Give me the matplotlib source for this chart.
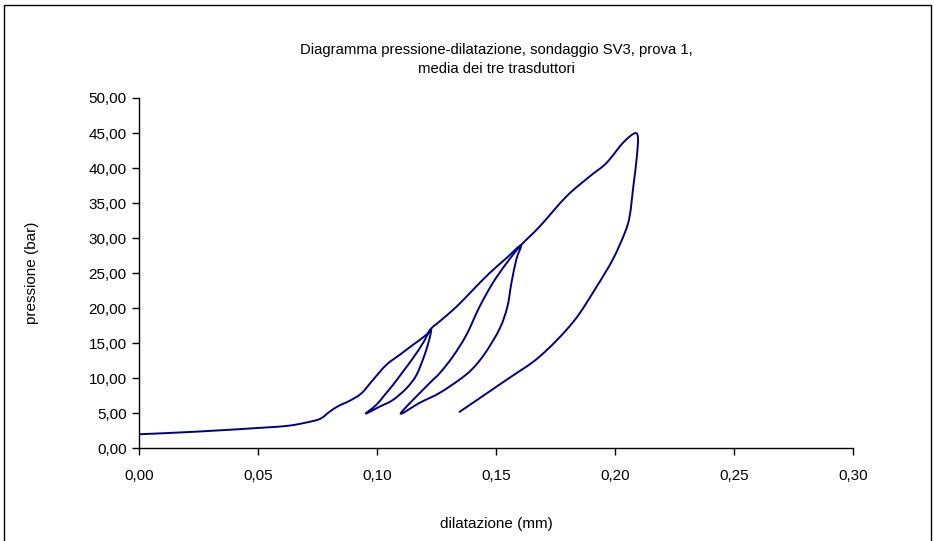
import matplotlib
matplotlib.use('Agg')
import matplotlib.pyplot as plt
from matplotlib.patches import Rectangle, PathPatch
from matplotlib.path import Path
from matplotlib.ticker import FuncFormatter, MultipleLocator

# one continuous pressure-dilation path (load / unload / reload cycles)
dilatazione = [
    0.000, 0.024, 0.052, 0.063, 0.070, 0.076, 0.080, 0.0836, 0.0886, 0.0935,
    0.0983, 0.1039, 0.1095, 0.1151, 0.1207, 0.1227,
    0.1221, 0.1200, 0.1166, 0.1124, 0.1067, 0.1011, 0.0953,
    0.0997, 0.1032, 0.1067, 0.1109, 0.1151, 0.1193, 0.1227,
    0.1263, 0.1334, 0.1403, 0.1473, 0.1544, 0.1604,
    0.1586, 0.1565, 0.1548, 0.1516, 0.1455, 0.1400, 0.1347, 0.1263, 0.1180, 0.1100,
    0.1221, 0.1263, 0.1319, 0.1376, 0.1431, 0.1487, 0.1544, 0.1604,
    0.1684, 0.1796, 0.1894, 0.1964, 0.2034, 0.2083,
    0.2097, 0.2092, 0.2078, 0.2062, 0.2041, 0.1992, 0.1922, 0.1824, 0.1684,
    0.1544, 0.1347,
]
pressione = [
    2.00, 2.37, 2.94, 3.23, 3.66, 4.19, 5.20, 6.00, 6.80, 7.86,
    9.76, 11.90, 13.33, 14.76, 16.19, 17.04,
    15.70, 13.33, 10.47, 8.57, 6.90, 5.94, 4.95,
    6.19, 7.61, 9.04, 10.94, 12.86, 15.00, 17.04,
    18.10, 20.20, 22.60, 25.00, 27.14, 28.94,
    27.00, 23.60, 20.20, 17.10, 13.60, 11.30, 9.80, 7.90, 6.50, 5.00,
    9.30, 10.70, 13.10, 16.20, 20.20, 23.60, 26.40, 28.94,
    31.66, 35.94, 38.80, 40.70, 43.60, 44.96,
    44.30, 41.50, 37.50, 33.10, 30.70, 27.00, 23.00, 18.00, 13.10,
    9.76, 5.20,
]


def smooth_path(xs, ys):
    # spreadsheet-style smoothed line: cubic bezier through every point
    verts = [(xs[0], ys[0])]
    codes = [Path.MOVETO]
    n = len(xs)
    for i in range(n - 1):
        x0, y0 = xs[max(i - 1, 0)], ys[max(i - 1, 0)]
        x1, y1 = xs[i], ys[i]
        x2, y2 = xs[i + 1], ys[i + 1]
        x3, y3 = xs[min(i + 2, n - 1)], ys[min(i + 2, n - 1)]
        c1 = (x1 + (x2 - x0) / 6.0, y1 + (y2 - y0) / 6.0)
        c2 = (x2 - (x3 - x1) / 6.0, y2 - (y3 - y1) / 6.0)
        verts += [c1, c2, (x2, y2)]
        codes += [Path.CURVE4] * 3
    return Path(verts, codes)


plt.rcParams['font.family'] = ['Liberation Sans', 'DejaVu Sans']

fig = plt.figure(figsize=(9.34, 5.41), dpi=100)
ax = fig.add_axes([0.149, 0.1714, 0.764, 0.6475])

ax.add_patch(PathPatch(smooth_path(dilatazione, pressione), fill=False,
                       edgecolor='#000080', linewidth=1.4, capstyle='round',
                       joinstyle='round'))

ax.set_xlim(0, 0.30)
ax.set_ylim(0, 50)
ax.xaxis.set_major_locator(MultipleLocator(0.05))
ax.yaxis.set_major_locator(MultipleLocator(5))
comma = FuncFormatter(lambda v, p: ('%.2f' % v).replace('.', ','))
ax.xaxis.set_major_formatter(comma)
ax.yaxis.set_major_formatter(comma)
ax.tick_params(direction='out', length=5, width=1, labelsize=11, pad=4)
ax.tick_params(axis='x', pad=10)
for s in ['top', 'right']:
    ax.spines[s].set_visible(False)
for s in ['left', 'bottom']:
    ax.spines[s].set_linewidth(1)

fig.text(0.531, 0.907, 'Diagramma pressione-dilatazione, sondaggio SV3, prova 1,',
         ha='center', va='center', fontsize=10.75)
fig.text(0.531, 0.873, 'media dei tre trasduttori', ha='center', va='center',
         fontsize=10.75)
fig.text(0.531, 0.031, 'dilatazione (mm)', ha='center', va='center', fontsize=11)
fig.text(0.034, 0.495, 'pressione (bar)', ha='center', va='center',
         rotation=90, fontsize=11)

# chart-area border like the spreadsheet frame
fig.patches.append(Rectangle((0.004, -0.05), 0.993, 1.04, transform=fig.transFigure,
                             fill=False, edgecolor='black', linewidth=1))

fig.savefig('out.png', dpi=100)
